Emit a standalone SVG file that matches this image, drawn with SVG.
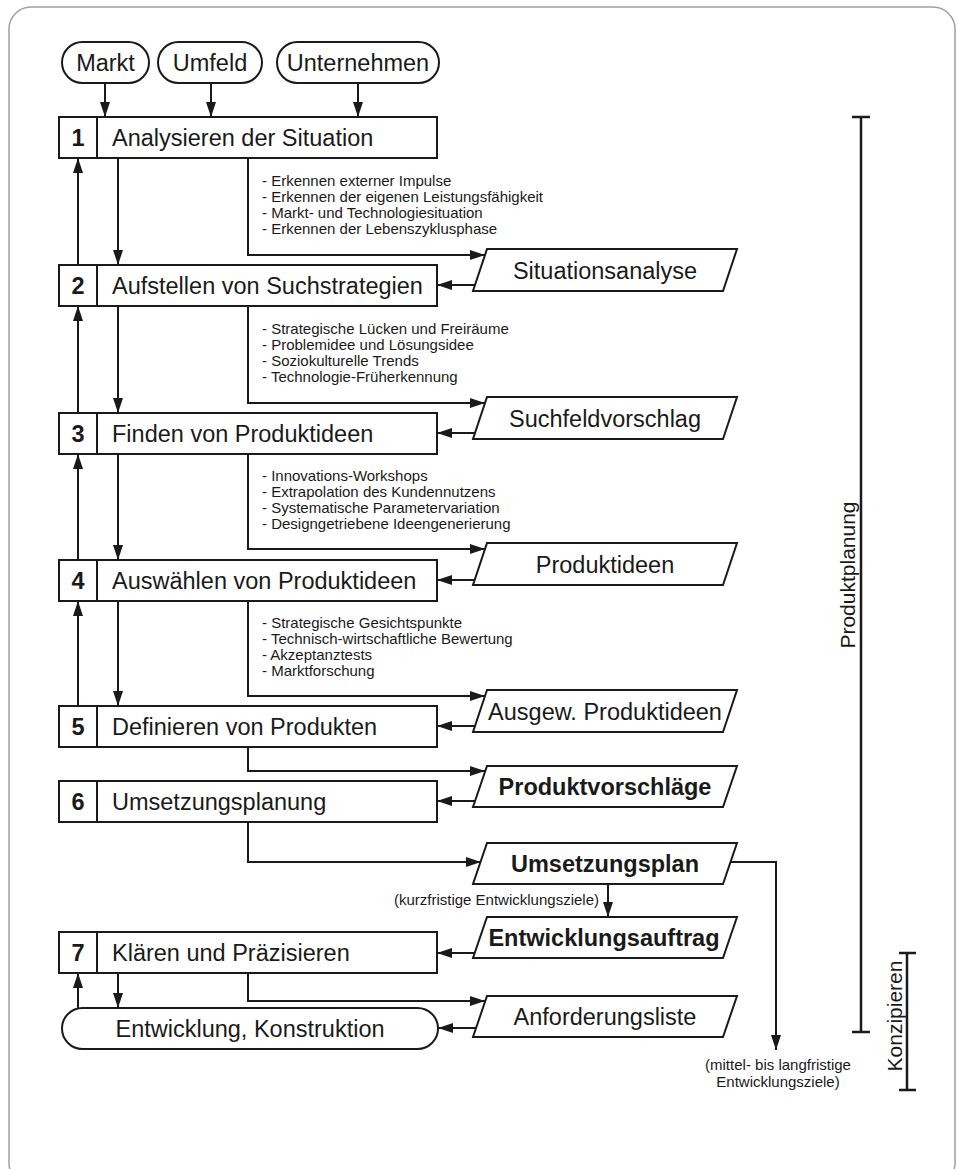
<svg xmlns="http://www.w3.org/2000/svg" width="957" height="1169" viewBox="0 0 957 1169">
  <defs>
    <marker id="arrow" markerUnits="userSpaceOnUse" markerWidth="16" markerHeight="11" refX="15" refY="5" orient="auto">
      <path d="M0,0 L15,5 L0,10 z" fill="#1a1a1a"/>
    </marker>
    <style>
      .frame { fill: none; stroke: #a0a0a0; stroke-width: 1.5; }
      .shape { fill: #fff; stroke: #1a1a1a; stroke-width: 2; }
      .line { fill: none; stroke: #1a1a1a; stroke-width: 2; }
      .arr { fill: none; stroke: #1a1a1a; stroke-width: 2; marker-end: url(#arrow); }
      .bar { fill: none; stroke: #1a1a1a; stroke-width: 2.5; }
      text { font-family: "Liberation Sans", Arial, sans-serif; fill: #1a1a1a; }
      .lbl { font-size: 23.5px; }
      .num { font-size: 23.5px; font-weight: bold; text-anchor: middle; }
      .mid { text-anchor: middle; }
      .bold { font-weight: bold; }
      .small { font-size: 15px; }
      .side { font-size: 21px; text-anchor: middle; }
    </style>
  </defs>

  <rect width="957" height="1169" fill="#fff"/>
  <rect class="frame" x="9" y="7" width="946" height="1178" rx="22"/>

  <!-- inputs -->
  <g id="markt">
    <rect class="shape" x="62" y="42" width="87" height="41" rx="20.5"/>
    <text class="lbl mid" x="105.5" y="70.5">Markt</text>
  </g>
  <g id="umfeld">
    <rect class="shape" x="158" y="42" width="104" height="41" rx="20.5"/>
    <text class="lbl mid" x="210" y="70.5">Umfeld</text>
  </g>
  <g id="unternehmen">
    <rect class="shape" x="277" y="42" width="162" height="41" rx="20.5"/>
    <text class="lbl mid" x="358" y="70.5">Unternehmen</text>
  </g>

  <!-- process steps -->
  <g id="step1">
    <rect class="shape" x="59" y="117" width="378" height="41"/>
    <line class="line" x1="97" y1="117" x2="97" y2="158"/>
    <text class="num" x="78" y="146">1</text>
    <text class="lbl" x="112" y="146">Analysieren der Situation</text>
  </g>
  <g id="step2">
    <rect class="shape" x="59" y="265" width="378" height="41"/>
    <line class="line" x1="97" y1="265" x2="97" y2="306"/>
    <text class="num" x="78" y="294">2</text>
    <text class="lbl" x="112" y="294">Aufstellen von Suchstrategien</text>
  </g>
  <g id="step3">
    <rect class="shape" x="59" y="413" width="378" height="41"/>
    <line class="line" x1="97" y1="413" x2="97" y2="454"/>
    <text class="num" x="78" y="442">3</text>
    <text class="lbl" x="112" y="442">Finden von Produktideen</text>
  </g>
  <g id="step4">
    <rect class="shape" x="59" y="560" width="378" height="41"/>
    <line class="line" x1="97" y1="560" x2="97" y2="601"/>
    <text class="num" x="78" y="589">4</text>
    <text class="lbl" x="112" y="589">Auswählen von Produktideen</text>
  </g>
  <g id="step5">
    <rect class="shape" x="59" y="706" width="378" height="41"/>
    <line class="line" x1="97" y1="706" x2="97" y2="747"/>
    <text class="num" x="78" y="735">5</text>
    <text class="lbl" x="112" y="735">Definieren von Produkten</text>
  </g>
  <g id="step6">
    <rect class="shape" x="59" y="781" width="378" height="41"/>
    <line class="line" x1="97" y1="781" x2="97" y2="822"/>
    <text class="num" x="78" y="810">6</text>
    <text class="lbl" x="112" y="810">Umsetzungsplanung</text>
  </g>
  <g id="step7">
    <rect class="shape" x="59" y="932" width="378" height="41"/>
    <line class="line" x1="97" y1="932" x2="97" y2="973"/>
    <text class="num" x="78" y="961">7</text>
    <text class="lbl" x="112" y="961">Klären und Präzisieren</text>
  </g>
  <g id="entwicklung">
    <rect class="shape" x="62" y="1008" width="376" height="41" rx="20.5"/>
    <text class="lbl mid" x="250" y="1037">Entwicklung, Konstruktion</text>
  </g>

  <!-- results -->
  <g id="situationsanalyse">
    <polygon class="shape" points="487,249 737,249 723,291 473,291"/>
    <text class="lbl mid" x="605" y="278.5">Situationsanalyse</text>
  </g>
  <g id="suchfeldvorschlag">
    <polygon class="shape" points="487,397 737,397 723,439 473,439"/>
    <text class="lbl mid" x="605" y="426.5">Suchfeldvorschlag</text>
  </g>
  <g id="produktideen">
    <polygon class="shape" points="487,543 737,543 723,585 473,585"/>
    <text class="lbl mid" x="605" y="572.5">Produktideen</text>
  </g>
  <g id="ausgew-produktideen">
    <polygon class="shape" points="487,690 737,690 723,732 473,732"/>
    <text class="lbl mid" x="605" y="719.5">Ausgew. Produktideen</text>
  </g>
  <g id="produktvorschlaege">
    <polygon class="shape" points="487,766 737,766 723,807 473,807"/>
    <text class="lbl mid bold" x="605" y="795">Produktvorschläge</text>
  </g>
  <g id="umsetzungsplan">
    <polygon class="shape" points="487,843 737,843 723,884 473,884"/>
    <text class="lbl mid bold" x="605" y="872">Umsetzungsplan</text>
  </g>
  <g id="entwicklungsauftrag">
    <polygon class="shape" points="487,917 737,917 723,958 473,958"/>
    <text class="lbl mid bold" x="604" y="946">Entwicklungsauftrag</text>
  </g>
  <g id="anforderungsliste">
    <polygon class="shape" points="487,996 737,996 723,1037 473,1037"/>
    <text class="lbl mid" x="605" y="1025">Anforderungsliste</text>
  </g>

  <!-- activity lists -->
  <g id="notes1" class="small">
    <text x="262" y="186">- Erkennen externer Impulse</text>
    <text x="262" y="202">- Erkennen der eigenen Leistungsfähigkeit</text>
    <text x="262" y="218">- Markt- und Technologiesituation</text>
    <text x="262" y="234">- Erkennen der Lebenszyklusphase</text>
  </g>
  <g id="notes2" class="small">
    <text x="262" y="334">- Strategische Lücken und Freiräume</text>
    <text x="262" y="350">- Problemidee und Lösungsidee</text>
    <text x="262" y="366">- Soziokulturelle Trends</text>
    <text x="262" y="382">- Technologie-Früherkennung</text>
  </g>
  <g id="notes3" class="small">
    <text x="262" y="481">- Innovations-Workshops</text>
    <text x="262" y="497">- Extrapolation des Kundennutzens</text>
    <text x="262" y="513">- Systematische Parametervariation</text>
    <text x="262" y="529">- Designgetriebene Ideengenerierung</text>
  </g>
  <g id="notes4" class="small">
    <text x="262" y="628">- Strategische Gesichtspunkte</text>
    <text x="262" y="644">- Technisch-wirtschaftliche Bewertung</text>
    <text x="262" y="660">- Akzeptanztests</text>
    <text x="262" y="676">- Marktforschung</text>
  </g>

  <!-- connectors -->
  <g id="connectors">
    <!-- inputs into step 1 -->
    <line class="arr" x1="105" y1="83" x2="105" y2="117"/>
    <line class="arr" x1="211" y1="83" x2="211" y2="117"/>
    <line class="arr" x1="358" y1="83" x2="358" y2="117"/>

    <!-- iteration between steps -->
    <line class="arr" x1="78" y1="265" x2="78" y2="158"/>
    <line class="arr" x1="118" y1="158" x2="118" y2="265"/>
    <line class="arr" x1="78" y1="413" x2="78" y2="306"/>
    <line class="arr" x1="118" y1="306" x2="118" y2="413"/>
    <line class="arr" x1="78" y1="560" x2="78" y2="454"/>
    <line class="arr" x1="118" y1="454" x2="118" y2="560"/>
    <line class="arr" x1="78" y1="706" x2="78" y2="601"/>
    <line class="arr" x1="118" y1="601" x2="118" y2="706"/>
    <line class="arr" x1="78" y1="1008" x2="78" y2="973"/>
    <line class="arr" x1="118" y1="973" x2="118" y2="1008"/>

    <!-- step outputs -->
    <path class="arr" d="M248,158 V255 H485"/>
    <path class="arr" d="M248,306 V403 H485"/>
    <path class="arr" d="M248,454 V549 H485"/>
    <path class="arr" d="M248,601 V696 H485"/>
    <path class="arr" d="M248,747 V771 H485"/>
    <path class="arr" d="M248,822 V862 H481"/>
    <path class="arr" d="M248,973 V1001 H485"/>

    <!-- results fed back -->
    <line class="arr" x1="475" y1="285" x2="437" y2="285"/>
    <line class="arr" x1="475" y1="433" x2="437" y2="433"/>
    <line class="arr" x1="475" y1="580" x2="437" y2="580"/>
    <line class="arr" x1="475" y1="726" x2="437" y2="726"/>
    <line class="arr" x1="475" y1="801" x2="437" y2="801"/>
    <line class="arr" x1="475" y1="953" x2="437" y2="953"/>
    <line class="arr" x1="476" y1="1028" x2="438" y2="1028"/>

    <!-- Umsetzungsplan branches -->
    <line class="arr" x1="608" y1="884" x2="608" y2="917"/>
    <path class="arr" d="M731,862 H776 V1050"/>
  </g>

  <g id="branch-labels" class="small">
    <text x="599" y="905" text-anchor="end">(kurzfristige Entwicklungsziele)</text>
    <text class="mid" x="778" y="1070">(mittel- bis langfristige</text>
    <text class="mid" x="778" y="1087">Entwicklungsziele)</text>
  </g>

  <!-- phase brackets -->
  <g id="produktplanung">
    <path class="bar" d="M852,117 H870 M861,117 V1032 M852,1032 H870"/>
    <text class="side" transform="translate(855,575) rotate(-90)">Produktplanung</text>
  </g>
  <g id="konzipieren">
    <path class="bar" d="M899,953 H916 M907,953 V1090 M899,1090 H916"/>
    <text class="side" transform="translate(902,1016) rotate(-90)">Konzipieren</text>
  </g>
</svg>
